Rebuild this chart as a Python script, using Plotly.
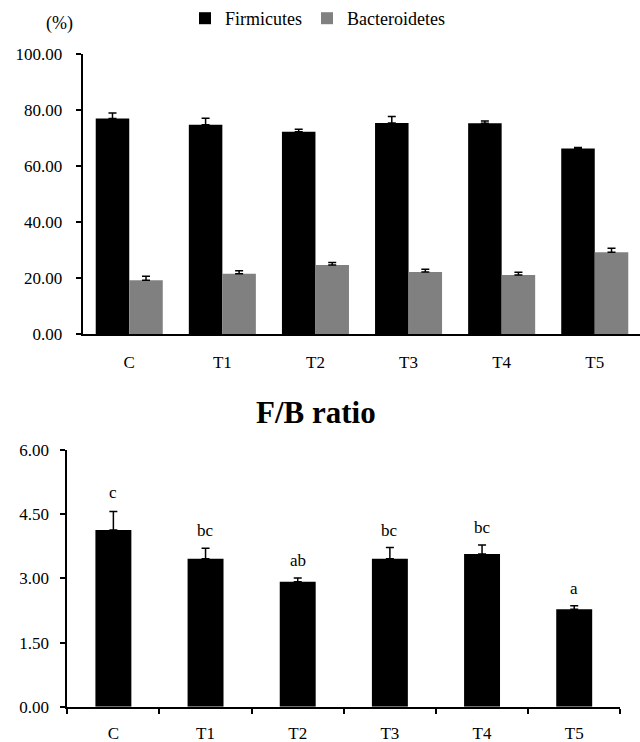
import plotly.graph_objects as go

categories = ["C", "T1", "T2", "T3", "T4", "T5"]
firmicutes = [77.0, 74.8, 72.3, 75.4, 75.3, 66.3]
firmicutes_err = [2.0, 2.3, 0.9, 2.3, 0.8, 0.4]
bacteroidetes = [19.2, 21.6, 24.7, 22.2, 21.1, 29.2]
bacteroidetes_err = [1.5, 1.0, 0.9, 1.0, 1.0, 1.5]
fb_ratio = [4.13, 3.46, 2.92, 3.46, 3.57, 2.28]
fb_err = [0.43, 0.24, 0.09, 0.26, 0.21, 0.08]
fb_letters = ["c", "bc", "ab", "bc", "bc", "a"]
top_ticks = [0, 20, 40, 60, 80, 100]
bottom_ticks = [0, 1.5, 3.0, 4.5, 6.0]

FONT = "Liberation Serif, Times New Roman, serif"
W, H = 640, 742

def px_x(p):
    return p / W

def px_y(p):
    return (H - p) / H

fig = go.Figure()

fig.add_trace(go.Bar(
    x=categories, y=firmicutes, name="Firmicutes",
    marker=dict(color="#000000", line=dict(width=0)),
    error_y=dict(type="data", array=firmicutes_err, arrayminus=[0]*6,
                 color="#000000", thickness=1.5, width=4),
    xaxis="x", yaxis="y",
))
fig.add_trace(go.Bar(
    x=categories, y=bacteroidetes, name="Bacteroidetes",
    marker=dict(color="#808080", line=dict(width=0)),
    error_y=dict(type="data", array=bacteroidetes_err, arrayminus=[0]*6,
                 color="#000000", thickness=1.5, width=4),
    xaxis="x", yaxis="y",
))
fig.add_trace(go.Bar(
    x=categories, y=fb_ratio, name="F/B ratio", showlegend=False,
    marker=dict(color="#000000", line=dict(width=0)),
    width=0.39,
    error_y=dict(type="data", array=fb_err, arrayminus=[0]*6,
                 color="#000000", thickness=1.5, width=4),
    xaxis="x2", yaxis="y2",
))

for c, v, e, t in zip(categories, fb_ratio, fb_err, fb_letters):
    fig.add_annotation(x=c, y=v + e, xref="x2", yref="y2", text=t,
                       showarrow=False, yanchor="bottom", yshift=8 if t == "c" else 6,
                       font=dict(family=FONT, size=17, color="#000"))

fig.add_annotation(x=px_x(59), y=px_y(22), xref="paper", yref="paper",
                   text="(%)", showarrow=False, xanchor="center", yanchor="middle",
                   font=dict(family=FONT, size=18, color="#000"))
fig.add_annotation(x=px_x(316), y=px_y(412), xref="paper", yref="paper",
                   text="<b>F/B ratio</b>", showarrow=False, xanchor="center",
                   yanchor="middle", font=dict(family=FONT, size=31, color="#000"))

axis_common = dict(showgrid=False, zeroline=False, showline=True,
                   linecolor="#000", linewidth=2, automargin=False,
                   tickfont=dict(family=FONT, size=17, color="#000"))

fig.update_layout(
    width=W, height=H,
    margin=dict(l=0, r=0, t=0, b=0),
    paper_bgcolor="white", plot_bgcolor="white",
    barmode="group", bargap=0.28, bargroupgap=0,
    showlegend=True,
    legend=dict(orientation="h", x=px_x(185), y=px_y(-2), xanchor="left", yanchor="top",
                font=dict(family=FONT, size=18, color="#000"),
                itemwidth=30, bgcolor="rgba(0,0,0,0)", tracegroupgap=0),
    xaxis=dict(domain=[px_x(82.7), 1.0], range=[-0.5, 5.486], anchor="y",
               ticks="", ticklabelstandoff=11, **axis_common),
    yaxis=dict(domain=[px_y(333), px_y(52.3)], range=[0, 100], anchor="x",
               tickvals=top_ticks, ticktext=[f"{v:.2f}" for v in top_ticks],
               ticks="outside", ticklen=5, tickwidth=2, tickcolor="#000",
               ticklabelstandoff=10, **axis_common),
    xaxis2=dict(domain=[px_x(67.3), px_x(620.3)], range=[-0.5, 5.5], anchor="y2",
                ticks="outside", ticklen=5, tickwidth=2, tickcolor="#000",
                tickson="boundaries", ticklabelstandoff=10, **axis_common),
    yaxis2=dict(domain=[px_y(706.7), px_y(449.1)], range=[0, 6], anchor="x2",
                tickvals=bottom_ticks, ticktext=[f"{v:.2f}" for v in bottom_ticks],
                ticks="outside", ticklen=5, tickwidth=2, tickcolor="#000",
                ticklabelstandoff=8, **axis_common),
)

fig.write_html("out.html",
               config={"displayModeBar": False},
               post_script="document.body.style.margin='0';document.body.style.padding='0';")
